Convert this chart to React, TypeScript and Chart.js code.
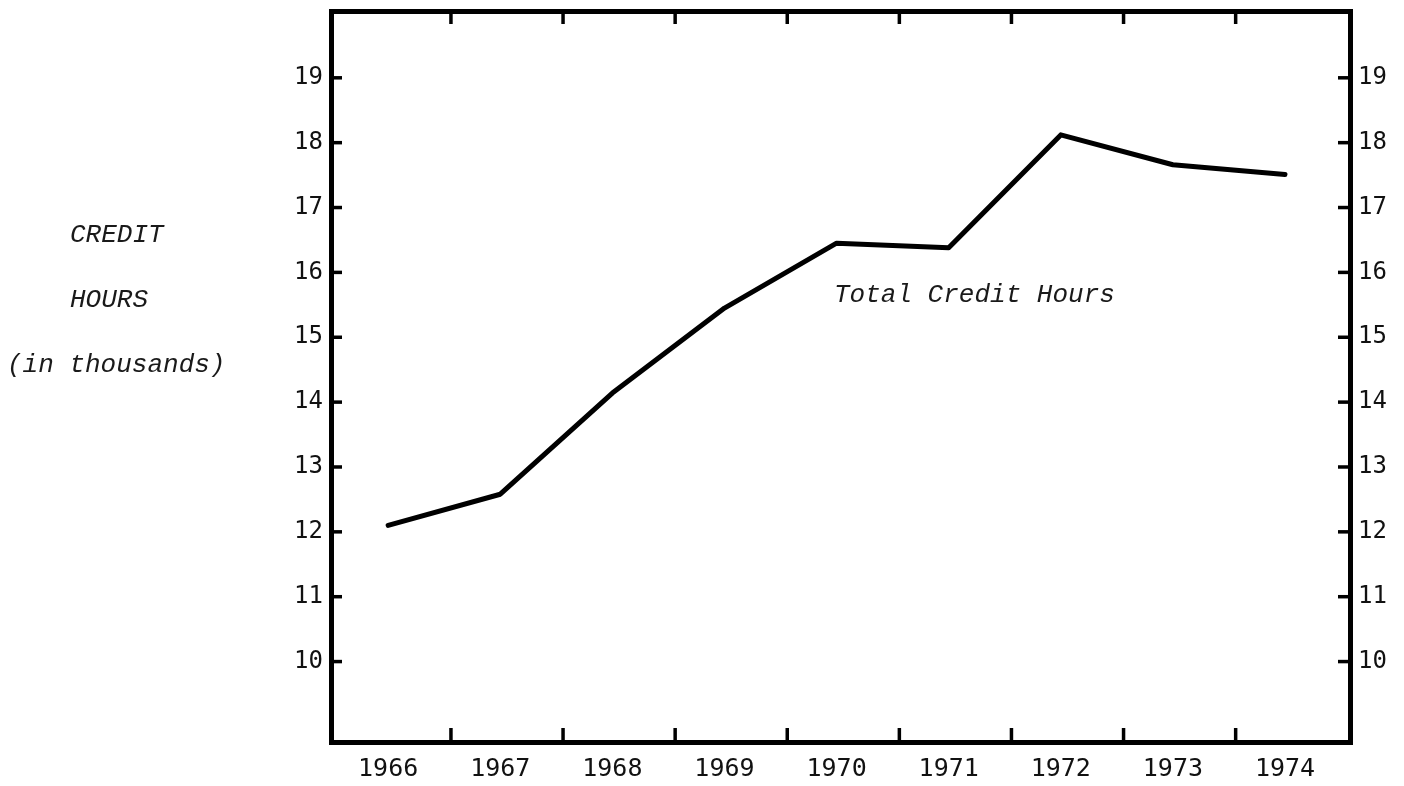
import React, { useEffect, useRef } from "react";
import { Chart, registerables } from "chart.js";

Chart.register(...registerables);

const years = [1966, 1967, 1968, 1969, 1970, 1971, 1972, 1973, 1974];
const creditHours = [12.1, 12.58, 14.14, 15.45, 16.45, 16.38, 18.12, 17.66, 17.51];
const yTickValues = [10, 11, 12, 13, 14, 15, 16, 17, 18, 19];
const yAxisTitleLines = ["CREDIT", "HOURS", "(in thousands)"];
const seriesLabel = "Total Credit Hours";

const X_MIN = 1965.49;
const X_MAX = 1974.58;
const Y_MIN = 8.76;
const Y_MAX = 20.03;
const X_MARK_OFFSET = 0.56;

const tickFont = { family: '"DejaVu Sans Mono", monospace', size: 24 };

const zeroPad = (s: any) => {
  s.paddingTop = 0;
  s.paddingBottom = 0;
  s.paddingLeft = 0;
  s.paddingRight = 0;
};

const frameMarks = {
  id: "frameMarks",
  afterDraw(chart: any) {
    const { ctx, chartArea, scales } = chart;
    const y = scales.y;
    const x = scales.x;
    ctx.save();
    ctx.strokeStyle = "#000";
    ctx.lineWidth = 3.5;
    ctx.lineCap = "butt";
    for (const v of yTickValues) {
      const py = y.getPixelForValue(v);
      ctx.beginPath();
      ctx.moveTo(chartArea.left, py);
      ctx.lineTo(chartArea.left + 11, py);
      ctx.stroke();
      ctx.beginPath();
      ctx.moveTo(chartArea.right, py);
      ctx.lineTo(chartArea.right - 12, py);
      ctx.stroke();
    }
    for (let i = 0; i < years.length - 1; i++) {
      const px = x.getPixelForValue(years[i] + X_MARK_OFFSET);
      ctx.beginPath();
      ctx.moveTo(px, chartArea.bottom);
      ctx.lineTo(px, chartArea.bottom - 14);
      ctx.stroke();
      ctx.beginPath();
      ctx.moveTo(px, chartArea.top);
      ctx.lineTo(px, chartArea.top + 13);
      ctx.stroke();
    }
    ctx.fillStyle = "#1a1a1a";
    ctx.font = 'italic 26px "Liberation Mono", monospace';
    ctx.textBaseline = "alphabetic";
    ctx.textAlign = "left";
    ctx.fillText(yAxisTitleLines[0], 70, 242);
    ctx.fillText(yAxisTitleLines[1], 70, 307);
    ctx.fillText(yAxisTitleLines[2], 7, 372);
    ctx.fillText(seriesLabel, 834, 302);
    ctx.restore();
  },
};

export default function App() {
  const ref = useRef<HTMLCanvasElement | null>(null);
  useEffect(() => {
    const canvas = ref.current!;
    const chart = new Chart(canvas, {
      type: "line",
      data: {
        datasets: [
          {
            label: seriesLabel,
            data: years.map((yr, i) => ({ x: yr, y: creditHours[i] })),
            borderColor: "#000",
            borderWidth: 5,
            pointRadius: 0,
            tension: 0,
            borderCapStyle: "round",
            borderJoinStyle: "round",
            fill: false,
          },
        ],
      },
      options: {
        responsive: false,
        animation: false,
        layout: { padding: 0 },
        plugins: { legend: { display: false }, tooltip: { enabled: false } },
        scales: {
          x: {
            type: "linear",
            position: "bottom",
            min: X_MIN,
            max: X_MAX,
            afterBuildTicks: (s: any) => {
              s.ticks = years.map((v) => ({ value: v }));
            },
            afterFit: (s: any) => {
              s.height = 44;
              zeroPad(s);
            },
            ticks: {
              autoSkip: false,
              maxRotation: 0,
              padding: 12,
              color: "#111",
              font: { ...tickFont, size: 25 },
              callback: (v: any) => String(v),
            },
            grid: { display: false, drawTicks: false, lineWidth: 5 },
            border: { display: true, width: 5, color: "#000" },
          },
          x2: {
            type: "linear",
            position: "top",
            min: X_MIN,
            max: X_MAX,
            afterFit: (s: any) => {
              s.height = 11;
              zeroPad(s);
            },
            ticks: { display: false },
            grid: { display: false, drawTicks: false, lineWidth: 5 },
            border: { display: true, width: 5, color: "#000" },
          },
          y: {
            type: "linear",
            position: "left",
            min: Y_MIN,
            max: Y_MAX,
            afterBuildTicks: (s: any) => {
              s.ticks = yTickValues.map((v) => ({ value: v }));
            },
            afterFit: (s: any) => {
              s.width = 331;
              zeroPad(s);
            },
            ticks: {
              padding: 8,
              color: "#111",
              font: tickFont,
              callback: (v: any) => String(v),
            },
            grid: { display: false, drawTicks: false, lineWidth: 5 },
            border: { display: true, width: 5, color: "#000" },
          },
          y2: {
            type: "linear",
            position: "right",
            min: Y_MIN,
            max: Y_MAX,
            afterBuildTicks: (s: any) => {
              s.ticks = yTickValues.map((v) => ({ value: v }));
            },
            afterFit: (s: any) => {
              s.width = 54;
              zeroPad(s);
            },
            ticks: {
              padding: 8,
              color: "#111",
              font: tickFont,
              callback: (v: any) => String(v),
            },
            grid: { display: false, drawTicks: false, lineWidth: 5 },
            border: { display: true, width: 5, color: "#000" },
          },
        },
      },
      plugins: [frameMarks],
    } as any);
    return () => chart.destroy();
  }, []);
  return (
    <div style={{ position: "absolute", left: 0, top: 0, width: 1404, height: 786, background: "#fff" }}>
      <canvas ref={ref} width={1404} height={786} style={{ width: 1404, height: 786, display: "block" }} />
    </div>
  );
}
